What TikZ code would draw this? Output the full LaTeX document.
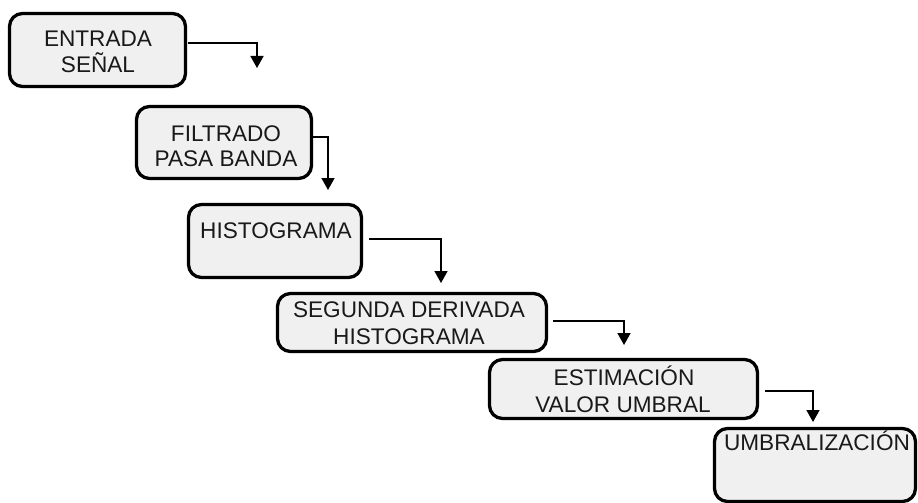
\documentclass[tikz,border=0pt]{standalone}
\usepackage{fontspec}
\setmainfont{Liberation Sans}
\usetikzlibrary{arrows.meta}
\begin{document}
\begin{tikzpicture}[x=1pt,y=-1pt,
  stepbox/.style={draw=black, line width=3.3pt, fill=gray!12, rounded corners=13pt,
    inner sep=0pt, outer sep=0pt},
  lbl/.style={anchor=base, inner sep=0pt, font=\fontsize{22.6}{26}\selectfont, text=black!90},
  arr/.style={line width=1.6pt, -{Triangle[width=13pt,length=12pt]}}]
\useasboundingbox (0,0) rectangle (918,503);
% boxes
\node[stepbox, minimum width=176pt, minimum height=73pt] (b1) at (97.5,50) {};
\node[stepbox, minimum width=175pt, minimum height=72pt] (b2) at (224,142.5) {};
\node[stepbox, minimum width=173pt, minimum height=73pt] (b3) at (275,241) {};
\node[stepbox, minimum width=269pt, minimum height=58pt] (b4) at (412,322.5) {};
\node[stepbox, minimum width=268pt, minimum height=59pt] (b5) at (623.5,389) {};
\node[stepbox, minimum width=201pt, minimum height=73pt] (b6) at (815,465) {};
% texts
\node[lbl] (t1a) at (98,47) {ENTRADA};
\node[lbl] (t1b) at (98,72) {SEÑAL};
\node[lbl] (t2a) at (226,141) {FILTRADO};
\node[lbl] (t2b) at (226,166) {PASA BANDA};
\node[lbl] (t3a) at (276,238) {HISTOGRAMA};
\node[lbl] (t4a) at (409,317) {SEGUNDA DERIVADA};
\node[lbl] (t4b) at (409,344) {HISTOGRAMA};
\node[lbl] (t5a) at (624,385) {ESTIMACIÓN};
\node[lbl] (t5b) at (623,412) {VALOR UMBRAL};
\node[lbl] (t6a) at (817,450) {UMBRALIZACIÓN};
% arrow ends
\coordinate (e1) at (257,68);
\coordinate (e2) at (328,190);
\coordinate (e3) at (441,283);
\coordinate (e4) at (624,345);
\coordinate (e5) at (813,422);
% connectors
\draw[arr] ([xshift=2.5pt,yshift=7pt]b1.east) -| (e1);
\draw[arr] ([xshift=1.5pt,yshift=5.5pt]b2.east) -| (e2);
\draw[arr] ([xshift=7.5pt,yshift=2pt]b3.east) -| (e3);
\draw[arr] ([xshift=6.5pt,yshift=1.5pt]b4.east) -| (e4);
\draw[arr] ([xshift=7.5pt,yshift=-2pt]b5.east) -| (e5);
\end{tikzpicture}
\end{document}
